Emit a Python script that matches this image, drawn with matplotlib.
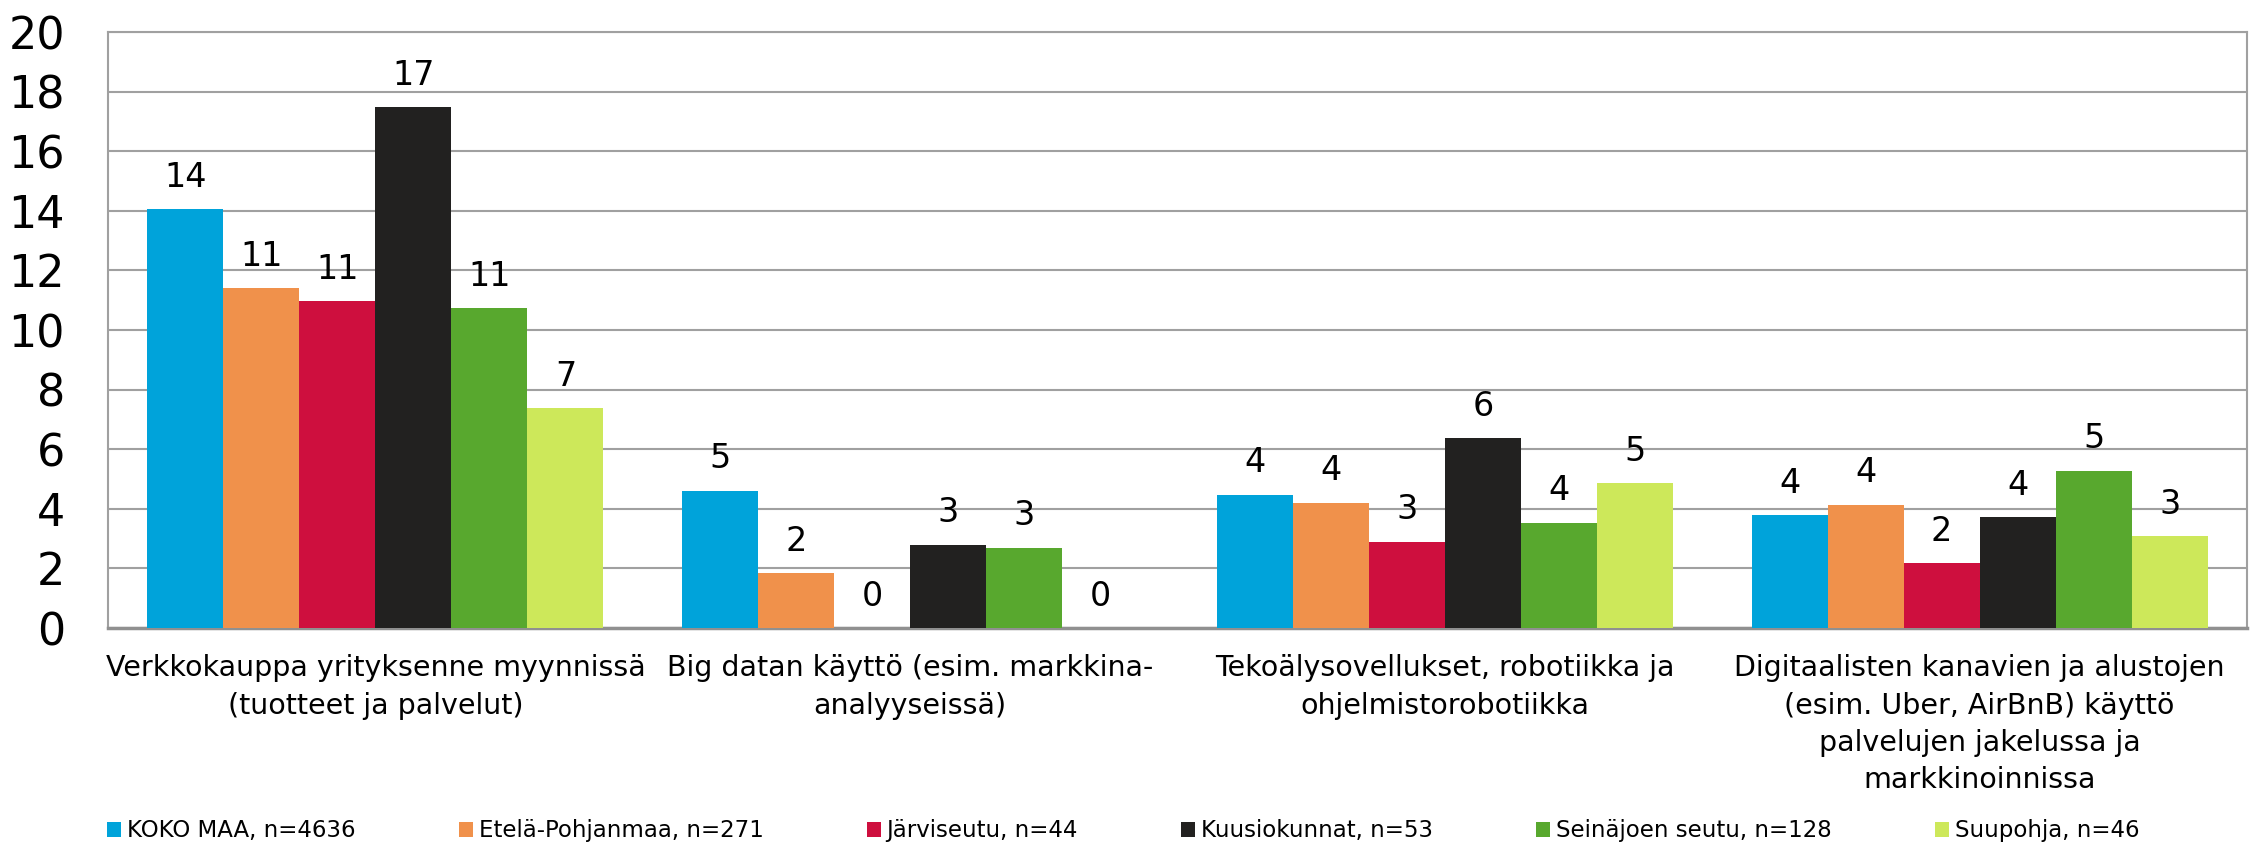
import matplotlib
matplotlib.use("Agg")
import matplotlib.pyplot as plt
import numpy as np

plt.rcParams['font.family'] = ['DejaVu Sans']

# ---------------------------------------------------------
# Data
# ---------------------------------------------------------
categories = [
    "Verkkokauppa yrityksenne myynnissä\n(tuotteet ja palvelut)",
    "Big datan käyttö (esim. markkina-\nanalyyseissä)",
    "Tekoälysovellukset, robotiikka ja\nohjelmistorobotiikka",
    "Digitaalisten kanavien ja alustojen\n(esim. Uber, AirBnB) käyttö\npalvelujen jakelussa ja\nmarkkinoinnissa",
]
series_names = [
    "KOKO MAA, n=4636",
    "Etelä-Pohjanmaa, n=271",
    "Järviseutu, n=44",
    "Kuusiokunnat, n=53",
    "Seinäjoen seutu, n=128",
    "Suupohja, n=46",
]
koko_maa = [14.06, 4.61, 4.47, 3.79]
etela_pohjanmaa = [11.41, 1.83, 4.20, 4.14]
jarviseutu = [10.97, 0.0, 2.89, 2.17]
kuusiokunnat = [17.47, 2.80, 6.37, 3.71]
seinajoen_seutu = [10.73, 2.69, 3.54, 5.28]
suupohja = [7.37, 0.0, 4.86, 3.08]

values = [koko_maa, etela_pohjanmaa, jarviseutu, kuusiokunnat, seinajoen_seutu, suupohja]
colors = ['#00A3DA', '#F0914B', '#CE0F3E', '#222120', '#58A82E', '#CDE85A']

# ---------------------------------------------------------
# Figure
# ---------------------------------------------------------
W, H = 2257, 850
fig = plt.figure(figsize=(W / 100, H / 100), dpi=100)
ax = fig.add_axes([108 / W, 1 - 628 / H, (2247 - 108) / W, (628 - 32) / H])

x = np.arange(len(categories))
n = len(values)
group_w = 0.853
bar_w = group_w / n

for i, (vals, col, name) in enumerate(zip(values, colors, series_names)):
    pos = x - group_w / 2 + bar_w * (i + 0.5)
    bars = ax.bar(pos, vals, width=bar_w, color=col, label=name, zorder=3)
    for b, v in zip(bars, vals):
        ax.annotate(f"{v:.0f}", (b.get_x() + b.get_width() / 2, v),
                    xytext=(0, 23), textcoords='offset points',
                    ha='center', va='center', fontsize=24, color='black')

ax.set_xlim(-0.5, len(categories) - 0.5)
ax.set_ylim(0, 20)
ax.set_yticks(np.arange(0, 21, 2))
ax.yaxis.grid(True, color='#A0A0A0', linewidth=1.5, zorder=0)
ax.set_axisbelow(True)

ax.set_xticks(x)
ax.set_xticklabels(categories, fontsize=20.5, linespacing=1.42)
ax.tick_params(axis='x', length=0, pad=19)
ax.tick_params(axis='y', length=0, pad=31, labelsize=32)

for side in ['left', 'top', 'right']:
    ax.spines[side].set_color('#A0A0A0')
    ax.spines[side].set_linewidth(1.5)
ax.spines['bottom'].set_color('#909090')
ax.spines['bottom'].set_linewidth(2.5)

fig.legend(loc='center left', bbox_to_anchor=(107 / W, 19 / H), ncol=6,
           frameon=False, fontsize=16.5, handlelength=0.61, handleheight=0.61,
           handletextpad=0.26, columnspacing=4.5, borderpad=0, borderaxespad=0)

fig.savefig("out.png", dpi=100)
